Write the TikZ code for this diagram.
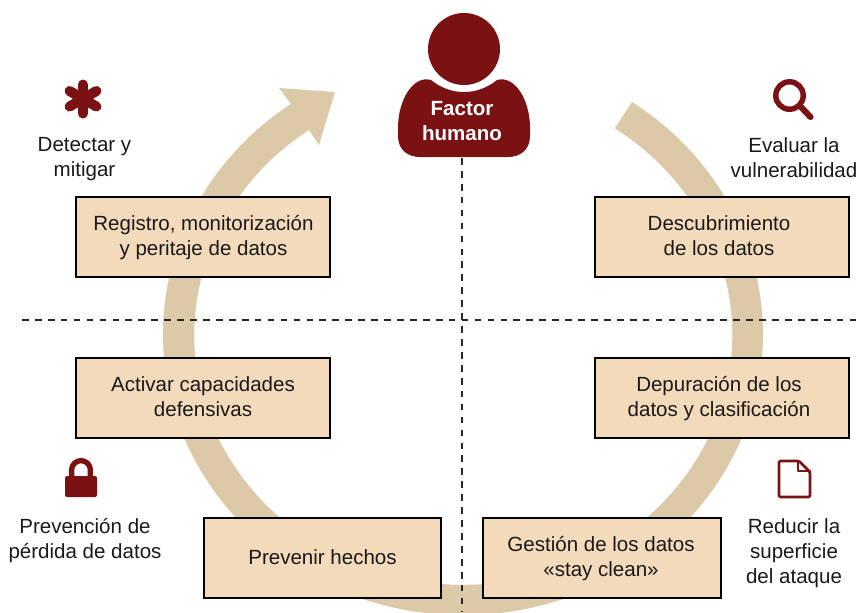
\documentclass[tikz,border=0pt]{standalone}
\usepackage{fontspec}
\setmainfont{Liberation Sans}
\definecolor{ringc}{HTML}{DBC9A8}
\definecolor{boxc}{HTML}{F2DABA}
\definecolor{redc}{HTML}{7A1214}
\tikzset{
  box/.style={draw=black,line width=1.1pt,fill=boxc,minimum width=#1*0.75pt,minimum height=60pt,inner sep=0pt},
  lbl/.style={align=center,inner sep=0pt,font=\fontsize{15.4}{18.75}\selectfont,text=black!90},
  dashline/.style={draw=black!85,line width=1pt,dash pattern=on 5pt off 4.7pt},
  red stroke/.style={draw=redc,line cap=round,line join=round}
}
\begin{document}
\begin{tikzpicture}[x=0.75pt,y=0.75pt]
\useasboundingbox (0,0) rectangle (856,-612);
\clip (0,0) rectangle (856,-612);
% ring with arrow head
\fill[ringc] (632,-102) arc[start angle=55.7,end angle=-235,x radius=225pt,y radius=210.75pt]
  -- (279,-88) -- (335,-92) -- (319,-145) -- (309,-130)
  arc[start angle=-235,end angle=55.7,x radius=201.75pt,y radius=187.5pt] -- cycle;
% head and body
\fill[redc] (464,-49) circle[radius=27pt];
\node[circle,minimum size=54pt,inner sep=0pt] (head) at (464,-49) {};
\fill[redc] (431,-80)
  .. controls (441,-88) and (452,-92) .. (464,-92)
  .. controls (476,-92) and (487,-88) .. (497,-80)
  .. controls (515,-75) and (530,-100) .. (530,-128)
  -- (530,-136) .. controls (530,-150) and (520,-157) .. (508,-157)
  -- (420,-157) .. controls (408,-157) and (398,-150) .. (398,-136)
  -- (398,-128) .. controls (398,-100) and (413,-75) .. (431,-80) -- cycle;
\node[align=center,inner sep=0pt,text=white,font=\fontsize{15.4}{18.75}\selectfont\bfseries] (person) at (462,-121) {Factor\\humano};
\coordinate (vtop) at (462,-158);
\coordinate (vbot) at (462,-612);
\coordinate (hleft) at (22,-320);
\coordinate (hright) at (856,-320);
\draw[dashline] (vtop) -- (vbot);
\draw[dashline] (hleft) -- (hright);
% boxes
\node[box=254] (b1) at (203,-237) {};
\node[box=254] (b2) at (722,-237) {};
\node[box=254] (b3) at (203,-398) {};
\node[box=254] (b4) at (722,-398) {};
\node[box=237] (b5) at (322.5,-558) {};
\node[box=238] (b6) at (602,-558) {};
\node[lbl] (t1) at (203.5,-238) {Registro, monitorización\\y peritaje de datos};
\node[lbl] (t2) at (719,-236) {Descubrimiento\\de los datos};
\node[lbl] (t3) at (203,-397) {Activar capacidades\\defensivas};
\node[lbl] (t4) at (719,-399) {Depuración de los\\datos y clasificación};
\node[lbl] (t5) at (322.5,-557) {Prevenir hechos};
\node[lbl] (t6) at (601,-559) {Gestión de los datos\\«stay clean»};
% labels
\node[lbl] (l1) at (84.5,-159) {Detectar y\\mitigar};
\node[lbl] (l2) at (794,-157.5) {Evaluar la\\vulnerabilidad};
\node[lbl] (l3) at (85,-541) {Prevención de\\pérdida de datos};
\node[lbl] (l4) at (794,-553) {Reducir la\\superficie\\del ataque};
% asterisk
\draw[red stroke,line width=7.5pt] (83,-84.5) -- (83,-113.5);
\draw[red stroke,line width=7.5pt] (69.6,-91) -- (96.4,-106.5);
\draw[red stroke,line width=7.5pt] (69.6,-106.5) -- (96.4,-91);
% magnifier
\draw[redc,line width=4.1pt] (789.5,-95.5) circle[radius=10.3pt];
\draw[red stroke,line width=4.6pt] (800,-106) -- (810.5,-117);
% lock
\fill[redc,rounded corners=1.5pt] (65,-476) rectangle (97,-497);
\draw[redc,line width=4pt] (71.6,-478) -- (71.6,-470) arc[start angle=180,end angle=0,radius=7.05pt] -- (90.4,-478);
% document
\draw[red stroke,line width=2pt,rounded corners=1pt] (779,-461) -- (799,-461) -- (810,-472) -- (810,-497) -- (779,-497) -- cycle;
\draw[red stroke,line width=2pt] (798,-461) -- (798,-471) -- (810,-471);
\end{tikzpicture}
\end{document}
